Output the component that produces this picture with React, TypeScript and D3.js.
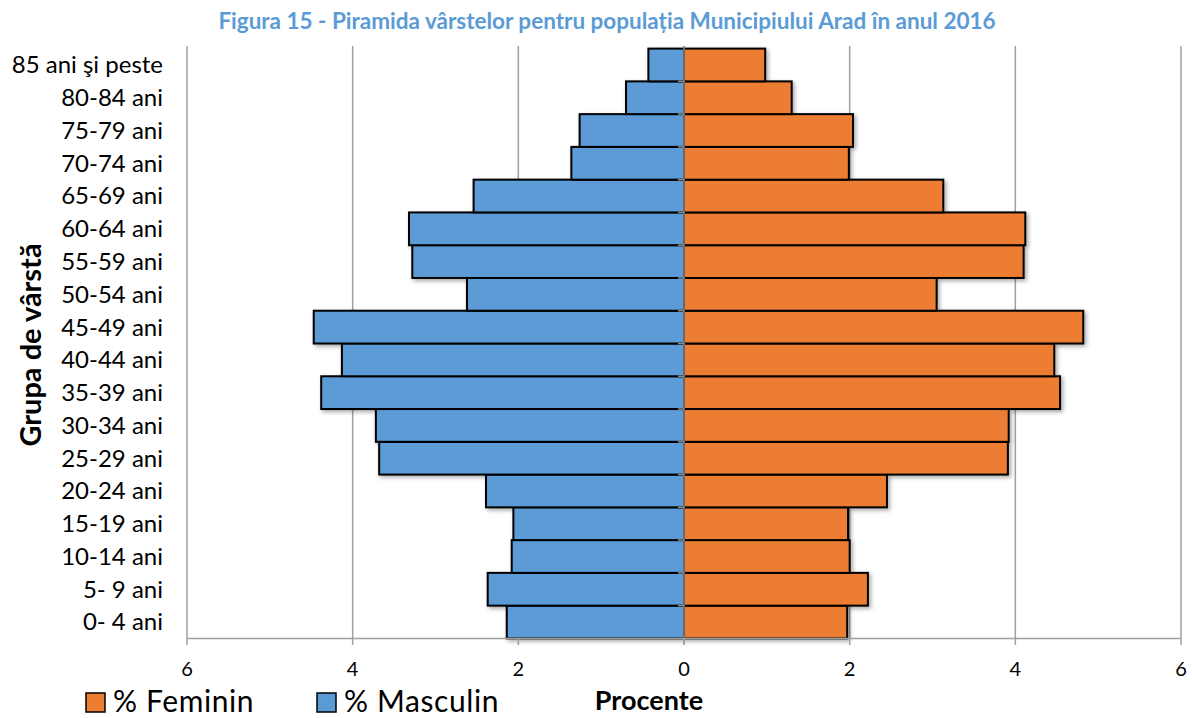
import { useEffect, useRef } from 'react';
import * as d3 from 'd3';

const categories = [
  "0- 4 ani", "5- 9 ani", "10-14 ani", "15-19 ani", "20-24 ani", "25-29 ani",
  "30-34 ani", "35-39 ani", "40-44 ani", "45-49 ani", "50-54 ani", "55-59 ani",
  "60-64 ani", "65-69 ani", "70-74 ani", "75-79 ani", "80-84 ani", "85 ani şi peste"
];
const masculin = [2.14, 2.37, 2.08, 2.06, 2.39, 3.68, 3.72, 4.38, 4.13, 4.47, 2.62, 3.28, 3.32, 2.54, 1.36, 1.26, 0.70, 0.43];
const feminin = [1.97, 2.22, 2.00, 1.98, 2.45, 3.91, 3.92, 4.54, 4.47, 4.82, 3.05, 4.10, 4.12, 3.13, 1.99, 2.04, 1.30, 0.98];
const tickValues = [-6, -4, -2, 0, 2, 4, 6];

const W = 1192;
const H = 718;
const FONT = "Lato, 'Open Sans', sans-serif";

export default function App() {
  const svgRef = useRef<SVGSVGElement>(null);

  useEffect(() => {
    if (!svgRef.current) return;
    const svg = d3.select(svgRef.current);
    svg.selectAll("*").remove();

    const x = d3.scaleLinear().domain([-6, 6]).range([187, 1181]);
    const y = d3.scaleBand<string>()
      .domain([...categories].reverse())
      .range([48.6, 638.4])
      .padding(0);

    const defs = svg.append("defs");
    const f = defs.append("filter").attr("id", "shadow")
      .attr("x", "-10%").attr("y", "-30%").attr("width", "120%").attr("height", "160%");
    f.append("feDropShadow")
      .attr("dx", 2).attr("dy", 2).attr("stdDeviation", 2)
      .attr("flood-color", "#000").attr("flood-opacity", 0.35);

    // title
    svg.append("text")
      .attr("x", 607).attr("y", 29)
      .attr("text-anchor", "middle")
      .attr("font-family", FONT)
      .attr("font-weight", "bold")
      .attr("font-size", 22.5)
      .attr("fill", "#5B9BD5")
      .text("Figura 15 - Piramida vârstelor pentru populația Municipiului Arad în anul 2016");

    // gridlines
    svg.append("g").selectAll("line")
      .data(tickValues)
      .enter()
      .append("line")
      .attr("x1", d => x(d)).attr("x2", d => x(d))
      .attr("y1", 46).attr("y2", 638.4)
      .attr("stroke", "#a0a0a0").attr("stroke-width", 1.5);

    // bars
    const bars = svg.append("g").attr("filter", "url(#shadow)");
    bars.selectAll(".m")
      .data(categories)
      .enter()
      .append("rect")
      .attr("x", (d, i) => x(-masculin[i]))
      .attr("y", d => y(d)!)
      .attr("width", (d, i) => x(0) - x(-masculin[i]))
      .attr("height", y.bandwidth())
      .attr("fill", "#5B9BD5")
      .attr("stroke", "#000").attr("stroke-width", 2);
    bars.selectAll(".f")
      .data(categories)
      .enter()
      .append("rect")
      .attr("x", x(0))
      .attr("y", d => y(d)!)
      .attr("width", (d, i) => x(feminin[i]) - x(0))
      .attr("height", y.bandwidth())
      .attr("fill", "#ED7D31")
      .attr("stroke", "#000").attr("stroke-width", 2);

    // category axis at 0
    svg.append("line")
      .attr("x1", x(0)).attr("x2", x(0))
      .attr("y1", 46).attr("y2", 645)
      .attr("stroke", "#8c8c8c").attr("stroke-width", 1.5);
    svg.append("g").selectAll("line")
      .data(categories.slice(1))
      .enter()
      .append("line")
      .attr("x1", x(0) - 6).attr("x2", x(0))
      .attr("y1", d => y(d)! + y.bandwidth()).attr("y2", d => y(d)! + y.bandwidth())
      .attr("stroke", "#8c8c8c").attr("stroke-width", 1.5);

    // bottom axis
    svg.append("line")
      .attr("x1", x(-6)).attr("x2", x(6))
      .attr("y1", 638.4).attr("y2", 638.4)
      .attr("stroke", "#a0a0a0").attr("stroke-width", 1.5);
    svg.append("g").selectAll("line")
      .data(tickValues)
      .enter()
      .append("line")
      .attr("x1", d => x(d)).attr("x2", d => x(d))
      .attr("y1", 638.4).attr("y2", 645)
      .attr("stroke", "#a0a0a0").attr("stroke-width", 1.5);
    svg.append("g").selectAll("text")
      .data(tickValues)
      .enter()
      .append("text")
      .attr("x", d => x(d)).attr("y", 676)
      .attr("text-anchor", "middle")
      .attr("font-family", FONT).attr("font-size", 20)
      .text(d => Math.abs(d));

    // category labels
    svg.append("g").selectAll("text")
      .data(categories)
      .enter()
      .append("text")
      .attr("x", 163)
      .attr("y", d => y(d)! + y.bandwidth() / 2)
      .attr("dy", "0.35em")
      .attr("text-anchor", "end")
      .attr("font-family", FONT).attr("font-size", 24)
      .text(d => d);

    // y title
    svg.append("text")
      .attr("transform", "translate(41,345) rotate(-90)")
      .attr("text-anchor", "middle")
      .attr("font-family", FONT).attr("font-weight", "bold").attr("font-size", 29)
      .text("Grupa de vârstă");

    // legend
    const legend = [
      { label: "% Feminin", color: "#ED7D31", x: 86 },
      { label: "% Masculin", color: "#5B9BD5", x: 317 }
    ];
    const lg = svg.append("g").selectAll("g")
      .data(legend)
      .enter()
      .append("g");
    lg.append("rect")
      .attr("x", d => d.x).attr("y", 693)
      .attr("width", 19).attr("height", 19)
      .attr("fill", d => d.color)
      .attr("stroke", "#000").attr("stroke-width", 1.5);
    lg.append("text")
      .attr("x", d => d.x + 27).attr("y", 711.5)
      .attr("font-family", FONT).attr("font-size", 30)
      .attr("letter-spacing", 0.6)
      .text(d => d.label);

    svg.append("text")
      .attr("x", 649).attr("y", 710)
      .attr("text-anchor", "middle")
      .attr("font-family", FONT).attr("font-weight", "bold").attr("font-size", 27)
      .text("Procente");
  }, []);

  return (
    <svg ref={svgRef} width={W} height={H} viewBox={`0 0 ${W} ${H}`}
      style={{ position: "absolute", left: 0, top: 0, background: "#fff" }} />
  );
}
